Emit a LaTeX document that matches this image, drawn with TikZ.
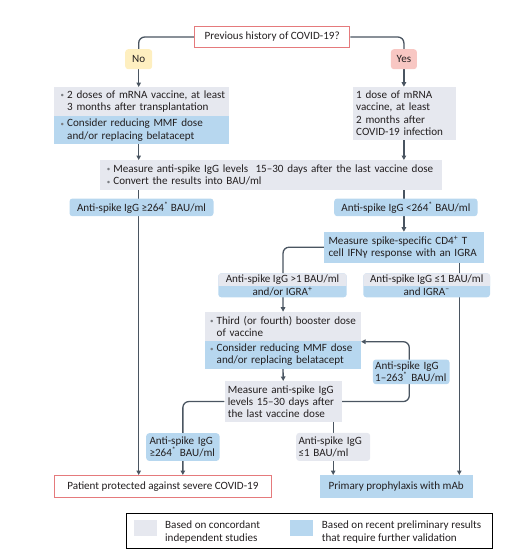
\documentclass[tikz,border=0pt]{standalone}
\usepackage{fontspec}
\setmainfont{Carlito}
\usetikzlibrary{arrows.meta}
\definecolor{cgray}{HTML}{E6E8EF}
\definecolor{cblue}{HTML}{B7D7EF}
\definecolor{cyel}{HTML}{FEEFC0}
\definecolor{cpink}{HTML}{F8C7C3}
\definecolor{cred}{HTML}{E57A7C}
\definecolor{cline}{HTML}{4A5561}
\definecolor{ctext}{HTML}{231F20}
\definecolor{cbul}{HTML}{7A7D82}
\pgfdeclarelayer{background}
\pgfsetlayers{background,main}
\newcommand\bul{\makebox[6.5pt][l]{\textcolor{cbul}{\raisebox{0.5pt}{\scriptsize•}}}}
\newcommand\ind{\hspace*{6.5pt}}
\newcommand\sast{\textsuperscript{*}}
\tikzset{
  box/.style={inner ysep=0pt, text=ctext, font=\fontsize{11.1}{12.2}\selectfont, anchor=north west, align=left},
  gbox/.style={box, fill=cgray},
  bbox/.style={box, fill=cblue},
  txt/.style={inner sep=0pt, text=ctext, font=\fontsize{11.1}{12.2}\selectfont, align=center},
  conn/.style={draw=cline, line width=1.3pt},
  arr/.style={conn, -{Triangle[length=4.5pt,width=4.5pt]}},
}
\begin{document}
\begin{tikzpicture}[x=1pt,y=-1pt]
\useasboundingbox (0,0) rectangle (505,557);
% top question
\node[box, draw=cred, line width=1pt, fill=white, minimum width=155.3pt, minimum height=21.6pt, align=center] (top) at (194,25.7) {Previous history of COVID-19?};
\node[box, fill=cyel, rounded corners=3pt, minimum width=27pt, minimum height=20pt, inner xsep=0pt, align=center] (no) at (125,49) {No};
\node[box, fill=cpink, rounded corners=3pt, minimum width=26pt, minimum height=20pt, inner xsep=0pt, align=center] (yes) at (390.7,49) {Yes};
% left boxes
\node[gbox, inner xsep=6.5pt, text width=162pt, minimum height=28.7pt] (L1) at (54,87)
  {\mbox{\bul 2 doses of mRNA vaccine, at least}\\\ind 3 months after transplantation};
\node[bbox, inner xsep=6.5pt, text width=162pt, minimum height=28.3pt] (L2) at (54,115.7)
  {\bul Consider reducing MMF dose\\\ind and/or replacing belatacept};
% right box
\node[gbox, inner xsep=3.7pt, text width=96.3pt, minimum height=52.6pt] (R) at (352.3,86.7)
  {1 dose of mRNA\\vaccine, at least\\2 months after\\COVID-19 infection};
% measure
\node[gbox, inner xsep=7.4pt, text width=327.6pt, minimum height=29.3pt] (M) at (99.3,160)
  {\mbox{\bul Measure anti-spike IgG levels\ \ 15--30 days after the last vaccine dose}\\\bul Convert the results into BAU/ml};
% labels after measure
\node[bbox, rounded corners=3pt, inner xsep=0pt, minimum width=144pt, minimum height=17.7pt, align=center] (ge1) at (69.3,198.3)
  {Anti-spike IgG ≥264\sast\ BAU/ml};
\node[bbox, rounded corners=3pt, inner xsep=0pt, minimum width=143.3pt, minimum height=17.7pt, align=center] (lt1) at (334,198.3)
  {Anti-spike IgG <264\sast\ BAU/ml};
% CD4 box
\node[bbox, inner xsep=4.3pt, text width=150.7pt, minimum height=30.6pt] (cd4) at (324,231.7)
  {Measure spike-specific CD4\textsuperscript{+} T\\\mbox{cell IFNγ response with an IGRA}};
% two-tone labels
\fill[cblue, rounded corners=3pt] (218.3,273.3) rectangle (346.7,297.3);
\begin{scope}
\clip (210,270) rectangle (355,285);
\fill[cgray, rounded corners=3pt] (218.3,273.3) rectangle (346.7,297.3);
\end{scope}
\fill[cblue, rounded corners=3pt] (363.3,273.3) rectangle (490,297.3);
\begin{scope}
\clip (355,270) rectangle (495,285);
\fill[cgray, rounded corners=3pt] (363.3,273.3) rectangle (490,297.3);
\end{scope}
\node[txt] (gt1a) at (282.5,279.3) {Anti-spike IgG >1 BAU/ml};
\node[txt] (gt1b) at (282.5,291.3) {and/or IGRA\textsuperscript{+}};
\node[txt] (le1a) at (426.7,279.3) {Anti-spike IgG ≤1 BAU/ml};
\node[txt] (le1b) at (426.7,291.3) {and IGRA\textsuperscript{–}};
% booster
\node[gbox, inner xsep=5pt, text width=145.7pt, minimum height=29pt] (B1) at (205,311.7)
  {\mbox{\bul Third (or fourth) booster dose}\\\ind of vaccine};
\node[bbox, inner xsep=5pt, text width=145.7pt, minimum height=27.6pt] (B2) at (205,340.7)
  {\bul Consider reducing MMF dose\\\ind and/or replacing belatacept};
% measure 2
\node[gbox, inner xsep=3.4pt, text width=110.6pt, minimum height=40.7pt] (M2) at (224.3,381)
  {Measure anti-spike IgG\\\mbox{levels 15--30 days after}\\the last vaccine dose};
\node[bbox, rounded corners=3pt, inner xsep=2.3pt, text width=72pt, minimum height=24.7pt] (r263) at (372.7,359.3)
  {Anti-spike IgG\\\mbox{1--263\sast\ BAU/ml}};
\node[bbox, rounded corners=3pt, inner xsep=3.3pt, text width=66.7pt, minimum height=27.7pt] (ge2) at (146,433)
  {Anti-spike IgG\\\mbox{≥264\sast\ BAU/ml}};
\node[gbox, rounded corners=3pt, inner xsep=2.3pt, text width=69.4pt, minimum height=28pt] (le2) at (296,432.7)
  {Anti-spike IgG\\≤1 BAU/ml};
% final boxes
\node[box, draw=cred, line width=1pt, fill=white, minimum width=216.7pt, minimum height=22.3pt, align=center] (pat) at (54,475)
  {Patient protected against severe COVID-19};
\node[bbox, minimum width=153.4pt, minimum height=22.3pt, align=center] (pri) at (319.3,475)
  {Primary prophylaxis with mAb};
% legend
\node[draw=black, line width=0.9pt, minimum width=365.7pt, minimum height=35pt, anchor=north west, inner sep=0pt] (leg) at (126,513.3) {};
\node[fill=cgray, minimum width=22.7pt, minimum height=16.4pt, anchor=north west, inner sep=0pt] (sw1) at (134,519.3) {};
\node[fill=cblue, minimum width=22.7pt, minimum height=16.4pt, anchor=north west, inner sep=0pt] (sw2) at (290,519.3) {};
\node[txt, align=left, anchor=west] (lt1t) at (165,532) {Based on concordant\\independent studies};
\node[txt, align=left, anchor=west] (lt2t) at (321.7,532) {Based on recent preliminary results\\that require further validation};
\coordinate (xr) at (459.3,0);
\coordinate (loopc) at (409.3,341.7);
% connectors
\begin{pgfonlayer}{background}
\draw[conn, rounded corners=6pt] (top.west) -| (no.north);
\draw[conn, rounded corners=6pt] (top.east) -| (yes.north);
\draw[arr] (no.south) -- (no.south |- L1.north);
\draw[arr] (yes.south) -- (yes.south |- R.north);
\draw[arr] (no |- L2.south) -- (no |- M.north);
\draw[arr] (yes |- R.south) -- (yes |- M.north);
\draw[arr] (no |- M.south) -- (no |- pat.north);
\draw[arr] (yes |- M.south) -- (yes |- cd4.north);
\draw[arr, rounded corners=6pt] (cd4.west) -| (B1.north);
\draw[arr] (xr |- cd4.south) -- (xr |- pri.north);
\draw[arr] (B2.south) -- (M2.north);
\draw[arr, rounded corners=6pt] (M2.east) -| (loopc) -- (B2.east |- loopc);
\draw[arr, rounded corners=6pt] (M2.west) -| (ge2.north) -- (ge2 |- pat.north);
\draw[arr] (le2 |- M2.south) -- (le2 |- pri.north);
\end{pgfonlayer}
\end{tikzpicture}
\end{document}
